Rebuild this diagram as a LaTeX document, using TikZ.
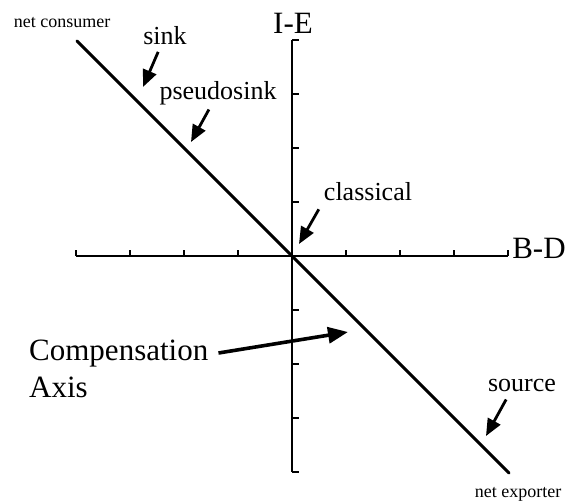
\documentclass[tikz,border=0pt]{standalone}
\usepackage{fontspec}
\setmainfont{Liberation Serif}
\usetikzlibrary{arrows.meta}

\begin{document}
\begin{tikzpicture}[
    x=1pt, y=-1pt,
    lbl/.style={inner sep=1pt, font=\fontsize{26}{31}\selectfont},
    big/.style={inner sep=1pt, font=\fontsize{31}{37}\selectfont},
    small/.style={inner sep=1pt, font=\fontsize{18}{22}\selectfont},
    axis/.style={line width=1.8pt},
    pointer/.style={-{Triangle[length=17pt,width=14pt]}, line width=2.8pt},
    bigpointer/.style={-{Triangle[length=20pt,width=16pt]}, line width=3.6pt}
  ]
    \useasboundingbox (0,0) rectangle (570,501);

    % axes with ticks
    \coordinate (O) at (292,256);
    \draw[axis] (76,256) -- (508,256);
    \draw[axis] (292,40) -- (292,472);
    \foreach \k in {-4,-3,-2,-1,1,2,3,4} {
      \draw[axis] (292+54*\k,256) -- ++(0,-6);
      \draw[axis] (292,256+54*\k) -- ++(7,0);
    }
    \node[big] (ie) at (293,23) {I-E};
    \node[big] (bd) at (539,248) {B-D};

    % compensation axis
    \coordinate (consumer) at (77,41);
    \coordinate (exporter) at (509,473);
    \draw[line width=3pt, line cap=round] (consumer) -- (exporter);
    \node[small] (netcons) at (62,23) {net consumer};
    \node[small] (netexp) at (518,494) {net exporter};

    % labelled points on the axis
    \coordinate (sinktip) at (143,87);
    \coordinate (psinktip) at (191,142);
    \coordinate (classtip) at (299,244);
    \coordinate (sourcetip) at (486,436);
    \coordinate (comptip) at (348,332);

    \node[lbl] (sink) at (165,36) {sink};
    \node[lbl] (psink) at (218,93) {pseudosink};
    \node[lbl] (classical) at (368,192) {classical};
    \node[lbl] (source) at (522,385) {source};
    \node[big, align=left, anchor=north west] (comp) at (28,339) {Compensation\\Axis};

    \draw[pointer, shorten <=6pt] (sink) -- (sinktip);
    \draw[pointer, shorten <=4pt] (psink) -- (psinktip);
    \draw[pointer, shorten <=8pt] (classical.south west) -- (classtip);
    \draw[pointer, shorten <=8pt] ([xshift=-12pt]source.south) -- (sourcetip);
    \draw[bigpointer] ([xshift=9pt,yshift=-14pt]comp.north east) -- (comptip);
  \end{tikzpicture}
\end{document}
